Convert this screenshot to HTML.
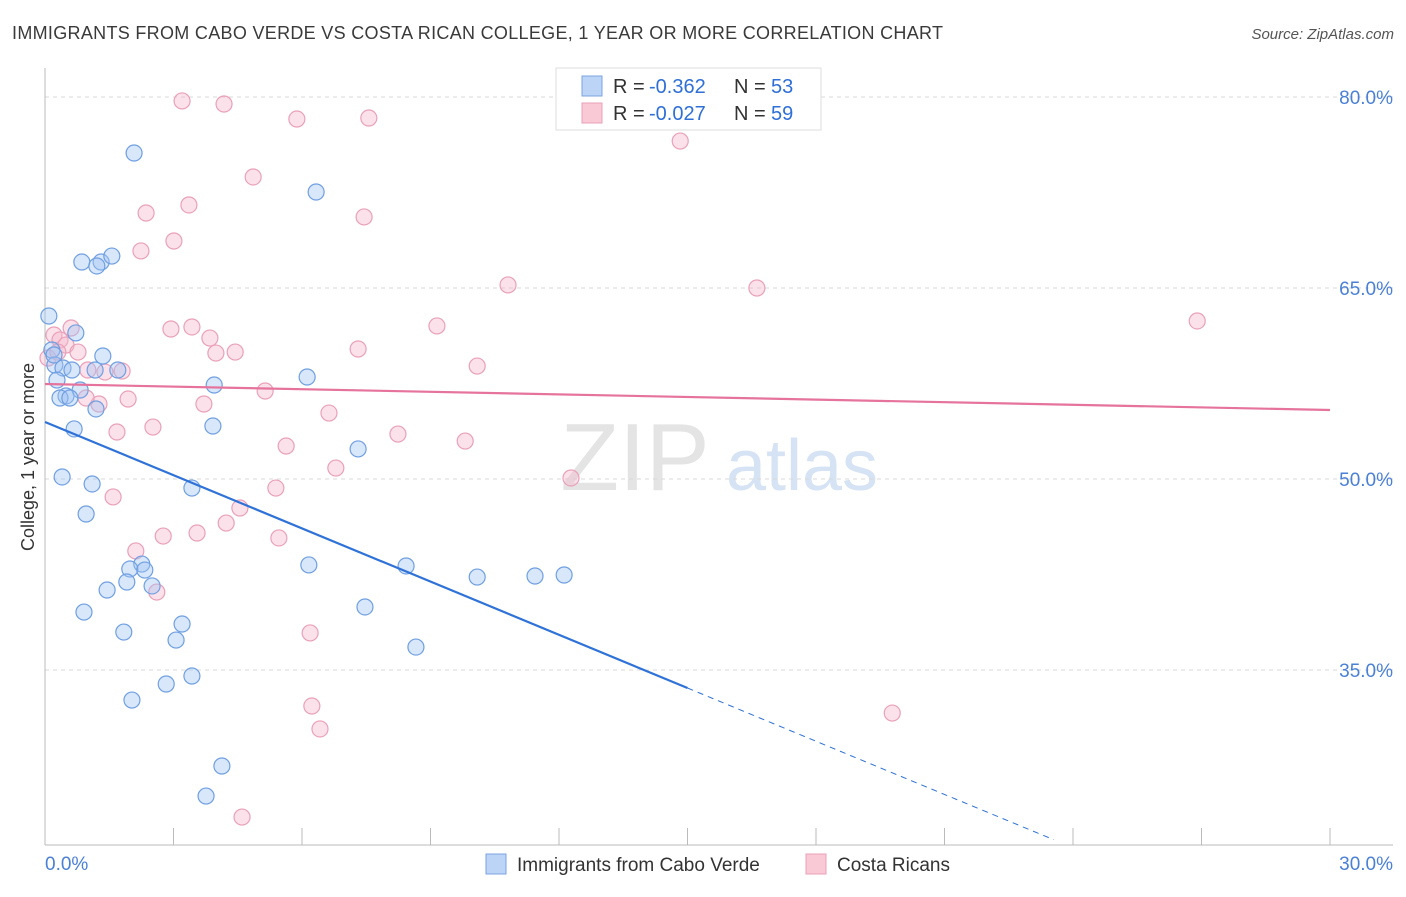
<!DOCTYPE html>
<html><head><meta charset="utf-8"><style>
body{margin:0;background:#fff;font-family:"Liberation Sans",sans-serif;}
svg text{font-family:"Liberation Sans",sans-serif;}
</style></head><body>
<svg id="chart" width="1406" height="892" viewBox="0 0 1406 892" xmlns="http://www.w3.org/2000/svg">
<text x="12" y="39" font-size="18" fill="#3a3a3a" textLength="931" lengthAdjust="spacing">IMMIGRANTS FROM CABO VERDE VS COSTA RICAN COLLEGE, 1 YEAR OR MORE CORRELATION CHART</text>
<text x="1394" y="39" font-size="15" fill="#555" font-style="italic" text-anchor="end">Source: ZipAtlas.com</text>
<g>
<text x="635" y="490" font-size="96" font-family="Liberation Serif" fill="#e4e4e4" text-anchor="middle">ZIP</text>
<text x="802" y="490" font-size="72" fill="#d6e3f5" text-anchor="middle">atlas</text>
</g>
<g id="grid"></g>
<g id="axes"></g>
<g id="marks"></g>
<text transform="translate(34,457) rotate(-90)" font-size="18" fill="#333" text-anchor="middle">College, 1 year or more</text>
<g>
<rect x="556" y="68" width="265" height="62" fill="#fff" stroke="#ddd"/>
<rect x="582" y="76" width="20" height="20" fill="#bcd4f5" stroke="#7aa4e0"/>
<rect x="582" y="103" width="20" height="20" fill="#f9c9d6" stroke="#eaa0b8"/>
<text x="613" y="93" font-size="20" fill="#333">R =</text>
<text x="649" y="93" font-size="20" fill="#2e6fd8">-0.362</text>
<text x="734" y="93" font-size="20" fill="#333">N =</text>
<text x="771" y="93" font-size="20" fill="#2e6fd8">53</text>
<text x="613" y="120" font-size="20" fill="#333">R =</text>
<text x="649" y="120" font-size="20" fill="#2e6fd8">-0.027</text>
<text x="734" y="120" font-size="20" fill="#333">N =</text>
<text x="771" y="120" font-size="20" fill="#2e6fd8">59</text>
</g>
<g>
<rect x="486" y="854" width="20" height="20" fill="#bcd4f5" stroke="#7aa4e0"/>
<text x="517" y="871" font-size="19" fill="#333">Immigrants from Cabo Verde</text>
<rect x="806" y="854" width="20" height="20" fill="#f9c9d6" stroke="#eaa0b8"/>
<text x="837" y="871" font-size="19" fill="#333">Costa Ricans</text>
</g>
</svg>
<script>
const yTicks=[35,50,65,80];
const yTickLabels=["35.0%","50.0%","65.0%","80.0%"];
const xTickLabels=["0.0%","30.0%"];
const blueX=[2.08,6.33,0.86,1.31,1.56,1.21,0.09,0.72,0.16,1.35,0.23,0.42,0.63,0.28,1.17,1.70,0.82,0.49,0.35,0.58,1.19,3.95,6.12,0.68,3.92,7.31,0.40,1.10,3.43,0.96,2.26,1.98,2.33,6.16,8.43,10.09,11.44,12.12,1.91,1.45,2.50,0.91,7.47,3.20,1.84,3.06,8.66,3.43,2.83,2.03,4.13,3.76,0.21];
const blueY=[75.6,72.54,67.04,67.04,67.51,66.73,62.8,61.47,60.13,59.66,58.95,58.72,58.56,57.77,58.56,58.56,56.99,56.52,56.36,56.36,55.5,57.38,58.01,53.93,54.16,52.36,50.16,49.61,49.29,47.25,43.32,42.93,42.85,43.25,43.17,42.3,42.38,42.46,41.91,41.28,41.6,39.55,39.95,38.61,37.98,37.35,36.8,34.53,33.9,32.64,27.46,25.1,59.74];
const pinkX=[3.20,4.18,5.88,7.56,14.83,4.86,3.36,2.36,7.45,3.01,2.24,10.81,16.62,26.9,9.15,3.43,2.94,0.21,0.61,0.35,0.49,0.77,3.85,4.44,3.99,7.31,10.09,1.40,1.80,1.00,5.14,1.94,1.26,0.96,3.71,6.63,1.68,2.52,8.24,9.81,5.63,6.79,12.28,5.39,1.59,4.55,4.23,3.55,2.76,5.46,2.12,2.61,6.19,6.23,6.42,19.78,4.60,0.07,0.30];
const pinkY=[79.69,79.45,78.27,78.35,76.54,73.72,71.52,70.89,70.58,68.69,67.91,65.24,65.0,62.41,62.02,61.94,61.78,61.31,61.86,60.92,60.52,59.97,61.07,59.97,59.89,60.21,58.87,58.4,58.48,58.56,56.91,56.28,55.89,56.36,55.89,55.18,53.69,54.08,53.53,52.98,52.59,50.86,50.08,49.29,48.59,47.72,46.54,45.76,45.52,45.37,44.35,41.12,37.91,32.17,30.37,31.62,23.45,59.5,59.97];
const blueLine=[54.48,-1.393];
const pinkLine=[57.46,-0.068];
const NS="http://www.w3.org/2000/svg";
const X0=45,X1=1330,Y80=97,Y35=670;
const sx=v=>X0+(X1-X0)*v/30;
const sy=v=>Y80+(80-v)*(Y35-Y80)/45;
function mk(tag,attrs,parent){const e=document.createElementNS(NS,tag);for(const k in attrs)e.setAttribute(k,attrs[k]);parent.appendChild(e);return e;}
const grid=document.getElementById('grid'),axes=document.getElementById('axes'),marks=document.getElementById('marks');
yTicks.forEach((t,i)=>{
 const l=mk('line',{x1:X0,x2:1393,y1:sy(t),y2:sy(t),stroke:'#d8d8d8','stroke-dasharray':'4 4'},grid);
 
 
 const tx=mk('text',{x:1393,y:sy(t)+7,'font-size':19,fill:'#4a80d6','text-anchor':'end'},axes);
 tx.textContent=yTickLabels[i];
 
 
});
const ax=mk('line',{x1:X0,x2:X0,y1:68,y2:845,stroke:'#bbb'},axes);


const bx=mk('line',{x1:X0,x2:1393,y1:845,y2:845,stroke:'#bbb'},axes);


for(let i=0;i<=10;i++){const t=mk('line',{x1:sx(i*3),x2:sx(i*3),y1:828,y2:845,stroke:'#bbb'},axes);
 
 }
[[0,'start',45],[30,'end',1393]].forEach((d,i)=>{const t=mk('text',{x:d[2],y:870,'font-size':19,fill:'#4a80d6','text-anchor':d[1]},axes);t.textContent=xTickLabels[i];
 
 });
function dots(xs,ys,fill,stroke,name){xs.forEach((x,i)=>{const c=mk('circle',{cx:sx(x),cy:sy(ys[i]),r:8,fill:fill,stroke:stroke,'stroke-width':1.2},marks);
 
 });}
dots(pinkX,pinkY,'rgba(246,182,202,0.4)','#eaa0b8','costa-rican-point');
dots(blueX,blueY,'rgba(160,194,242,0.4)','#6f9fe2','cabo-verde-point');
const f=(L,x)=>L[0]+L[1]*x;
const bl=mk('line',{x1:sx(0),y1:sy(f(blueLine,0)),x2:sx(15),y2:sy(f(blueLine,15)),stroke:'#2f72d8','stroke-width':2.2},marks);


const bd=mk('line',{x1:sx(15),y1:sy(f(blueLine,15)),x2:sx(23.55),y2:sy(f(blueLine,23.55)),stroke:'#2f72d8','stroke-width':1,'stroke-dasharray':'6 5'},marks);


const pl=mk('line',{x1:sx(0),y1:sy(f(pinkLine,0)),x2:sx(30),y2:sy(f(pinkLine,30)),stroke:'#e5739c','stroke-width':2.2},marks);


</script>
</body></html>
